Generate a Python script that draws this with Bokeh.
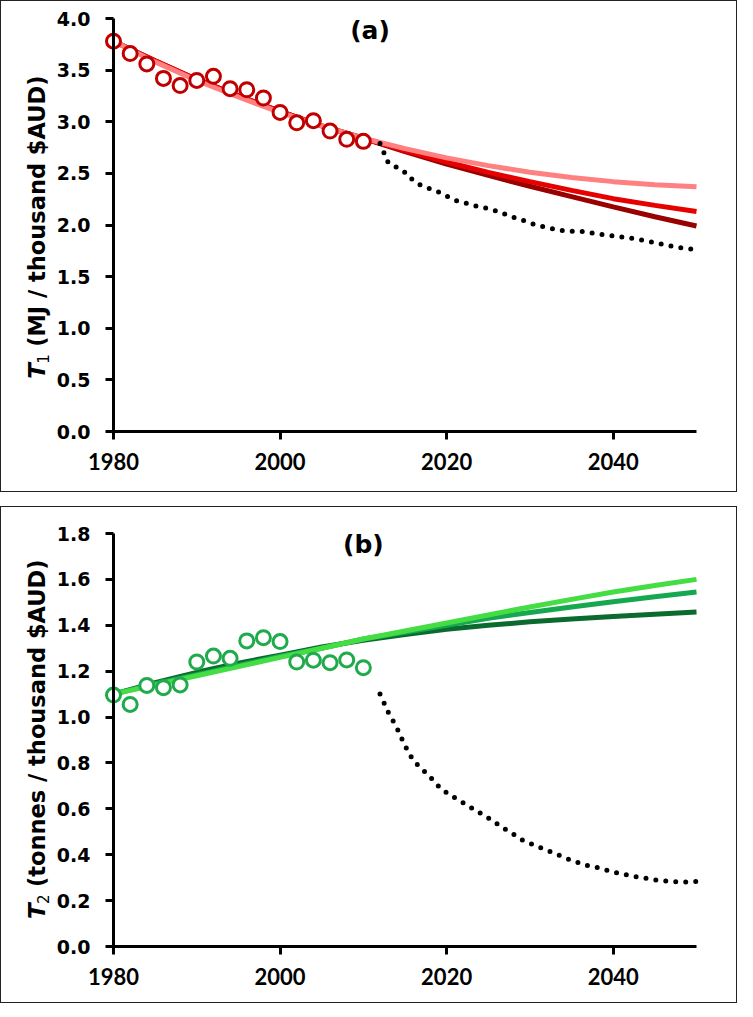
import math
from bokeh.plotting import figure
from bokeh.layouts import column
from bokeh.models import Range1d, Label, FixedTicker, PrintfTickFormatter
from bokeh.embed import file_html
from bokeh.resources import INLINE

# ---------------- data ----------------
obs_years = [1980, 1982, 1984, 1986, 1988, 1990, 1992, 1994, 1996, 1998,
             2000, 2002, 2004, 2006, 2008, 2010]
t1_obs = [3.78, 3.66, 3.56, 3.42, 3.35, 3.40, 3.44, 3.32, 3.31, 3.23,
          3.09, 2.99, 3.01, 2.91, 2.83, 2.81]
t2_obs = [1.096, 1.055, 1.138, 1.128, 1.14, 1.24, 1.266, 1.256, 1.332, 1.346,
          1.329, 1.24, 1.248, 1.237, 1.249, 1.215]

fit_years = [1980, 1985, 1990, 1995, 2000, 2005, 2010, 2015, 2020, 2025,
             2030, 2035, 2040, 2045, 2050]
t1_fit_light = [3.78, 3.58, 3.40, 3.24, 3.09, 2.96, 2.84, 2.74, 2.65, 2.575,
                2.51, 2.46, 2.42, 2.39, 2.37]
t1_fit_mid = [3.78, 3.59, 3.41, 3.25, 3.10, 2.96, 2.84, 2.72, 2.61, 2.51,
              2.42, 2.335, 2.255, 2.19, 2.13]
t1_fit_dark = [3.78, 3.59, 3.41, 3.25, 3.10, 2.96, 2.84, 2.71, 2.59, 2.48,
               2.375, 2.275, 2.175, 2.08, 1.99]
t2_fit_light = [1.10, 1.14, 1.18, 1.22, 1.26, 1.30, 1.34, 1.375, 1.41, 1.445,
                1.48, 1.513, 1.545, 1.573, 1.60]
t2_fit_mid = [1.10, 1.145, 1.185, 1.225, 1.265, 1.30, 1.34, 1.37, 1.40, 1.43,
              1.456, 1.48, 1.503, 1.524, 1.545]
t2_fit_dark = [1.10, 1.15, 1.195, 1.235, 1.27, 1.305, 1.335, 1.36, 1.383, 1.40,
               1.415, 1.427, 1.438, 1.448, 1.458]

scen_years = [2012, 2013, 2014, 2015, 2016, 2017, 2018, 2019, 2020, 2021,
              2022, 2023, 2024, 2025, 2026, 2027, 2028, 2029, 2030, 2031,
              2032, 2033, 2034, 2035, 2036, 2037, 2038, 2039, 2040, 2041,
              2042, 2043, 2044, 2045, 2046, 2047, 2048, 2049, 2050]
t1_scen = [2.79, 2.60, 2.56, 2.51, 2.43, 2.38, 2.35, 2.32, 2.28, 2.24,
           2.22, 2.195, 2.175, 2.16, 2.135, 2.105, 2.075, 2.05, 2.02, 1.995,
           1.975, 1.96, 1.945, 1.94, 1.94, 1.93, 1.915, 1.905, 1.895, 1.885,
           1.875, 1.86, 1.845, 1.83, 1.81, 1.795, 1.78, 1.77, 1.76]
t2_scen = [1.10, 1.02, 0.955, 0.875, 0.81, 0.775, 0.74, 0.70, 0.67, 0.648,
           0.626, 0.604, 0.582, 0.56, 0.536, 0.512, 0.49, 0.466, 0.45, 0.435,
           0.42, 0.405, 0.39, 0.375, 0.364, 0.352, 0.345, 0.335, 0.325, 0.317,
           0.309, 0.302, 0.297, 0.29, 0.286, 0.283, 0.281, 0.281, 0.283]

x_ticks = [1980, 2000, 2020, 2040]
t1_ticks = [0.0, 0.5, 1.0, 1.5, 2.0, 2.5, 3.0, 3.5, 4.0]
t2_ticks = [0.0, 0.2, 0.4, 0.6, 0.8, 1.0, 1.2, 1.4, 1.6, 1.8]

TICK_FONT_X = "Lato"
TEXT_FONT = "DejaVu Sans"

W = 737
X_AXIS_PX = 112      # pixel position of 1980 inside a panel
X_END_PX = 695       # pixel position of 2050 inside a panel


def make_panel(height, top_px, zero_px, y_ticks, obs, fits, fit_colors, scen,
               marker_color, tag, tag_x, tag_y, sub, unit, label_y):
    y_end = y_ticks[-1]
    ppy = (X_END_PX - X_AXIS_PX) / (2050 - 1980)
    ppv = (zero_px - top_px) / y_end
    xr = Range1d(1980 - X_AXIS_PX / ppy, 2050 + (W - X_END_PX) / ppy)
    yr = Range1d(-(height - zero_px) / ppv, y_end + top_px / ppv)
    # the frame fills the whole panel; both axes are pinned at 1980 / 0
    p = figure(width=W, height=height, output_backend="svg",
               toolbar_location=None, x_range=xr, y_range=yr,
               min_border=0, min_border_left=0, min_border_right=0,
               min_border_top=0, min_border_bottom=0)
    p.outline_line_color = None
    p.grid.visible = False
    p.styles = {"border": "1.5px solid #222"}

    for ax in (p.xaxis[0], p.yaxis[0]):
        ax.axis_line_width = 3
        ax.axis_line_color = "black"
        ax.major_tick_line_width = 3
        ax.major_tick_line_color = "black"
        ax.major_tick_out = 8
        ax.major_tick_in = 0
        ax.minor_tick_line_color = None
        ax.major_label_text_font_style = "bold"
        ax.major_label_text_color = "black"

    p.xaxis.ticker = FixedTicker(ticks=x_ticks)
    p.xaxis.bounds = (1979.8, 2050)
    p.xaxis.fixed_location = 0
    p.xaxis.major_label_standoff = 13
    p.xaxis.major_label_text_font = TICK_FONT_X
    p.xaxis.major_label_text_font_size = "22px"

    p.yaxis.ticker = FixedTicker(ticks=y_ticks)
    p.yaxis.formatter = PrintfTickFormatter(format="%.1f")
    p.yaxis.fixed_location = 1980
    p.yaxis.bounds = (0, y_end)
    p.yaxis.major_label_standoff = 15
    p.yaxis.major_label_text_font = TEXT_FONT
    p.yaxis.major_label_text_font_size = "19px"

    for vals, col in zip(fits, fit_colors):
        p.line(fit_years, vals, line_color=col, line_width=5)

    p.line(scen_years, scen, line_color="black", line_width=5,
           line_dash="0 10", line_cap="round")

    p.scatter(obs_years, obs, marker="circle", size=14, fill_color="white",
              line_color=marker_color, line_width=3)

    p.add_layout(Label(x=tag_x, y=tag_y, text=tag, text_align="center",
                       text_baseline="middle", text_font=TEXT_FONT,
                       text_font_style="bold", text_font_size="25px",
                       text_color="black"))

    # y-axis title: italic T with subscript, then the unit text
    xo = -77
    p.add_layout(Label(x=1980, y=label_y, x_offset=xo, text="T",
                       angle=math.pi / 2, text_align="left",
                       text_baseline="middle", text_font=TEXT_FONT,
                       text_font_style="bold italic", text_font_size="23px",
                       text_color="black"))
    p.add_layout(Label(x=1980, y=label_y, x_offset=xo + 6, y_offset=15,
                       text=sub, angle=math.pi / 2, text_align="left",
                       text_baseline="middle", text_font=TEXT_FONT,
                       text_font_style="normal", text_font_size="15px",
                       text_color="black"))
    p.add_layout(Label(x=1980, y=label_y, x_offset=xo, y_offset=32,
                       text=unit, angle=math.pi / 2, text_align="left",
                       text_baseline="middle", text_font=TEXT_FONT,
                       text_font_style="bold", text_font_size="22.5px",
                       text_color="black"))
    return p


p1 = make_panel(492, 17, 430, t1_ticks, t1_obs,
                [t1_fit_dark, t1_fit_mid, t1_fit_light],
                ["#990000", "#e60000", "#ff8080"], t1_scen, "#c00000",
                "(a)", 2010.8, 3.88, "1", "(MJ / thousand $AUD)", 0.51)

p2 = make_panel(497, 26, 439, t2_ticks, t2_obs,
                [t2_fit_dark, t2_fit_mid, t2_fit_light],
                ["#0b6b2e", "#16a850", "#44dd44"], t2_scen, "#1faa4b",
                "(b)", 2010.0, 1.75, "2", "(tonnes / thousand $AUD)", 0.12)

layout = column(p1, p2, spacing=14)

open("out.html", "w").write(file_html(layout, INLINE))
